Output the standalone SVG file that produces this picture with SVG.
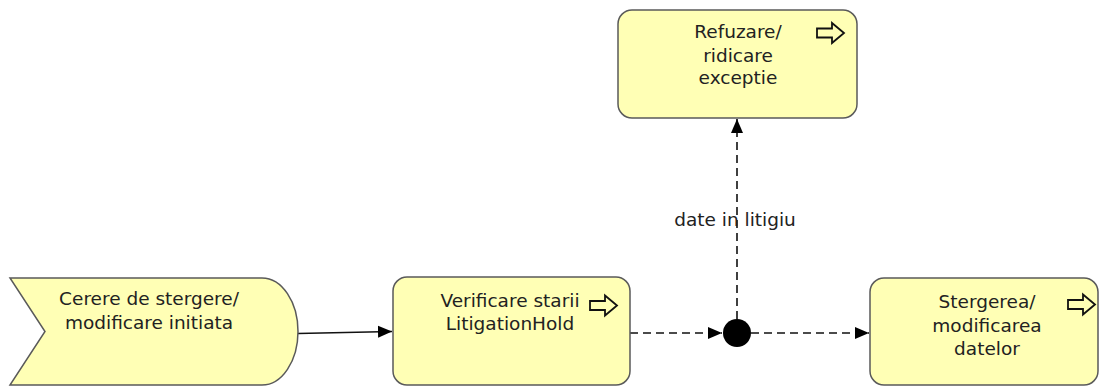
<svg xmlns="http://www.w3.org/2000/svg" width="1099" height="387" viewBox="0 0 1099 387">
  <style>
    .node { fill: #ffffb5; stroke: #5a5a5a; stroke-width: 1.5; }
    .label { font-family: "DejaVu Sans", "Liberation Sans", sans-serif; font-size: 18.5px; fill: #222; text-anchor: middle; }
    .icon { fill: none; stroke: #111; stroke-width: 1.8; stroke-linejoin: miter; }
    .flow { fill: none; stroke: #111; stroke-width: 1.6; }
    .dashed { stroke-dasharray: 8 5; }
  </style>
  <defs>
    <marker id="arrow" markerUnits="userSpaceOnUse" markerWidth="15" markerHeight="13" refX="14" refY="6.5" orient="auto">
      <path d="M0,0.5 L14,6.5 L0,12.5 z" fill="#000"/>
    </marker>
    <!-- business process glyph: outlined right arrow -->
    <polygon id="procIcon" class="icon" points="0,-4.5 15,-4.5 15,-10 27,0 15,10 15,4.5 0,4.5"/>
  </defs>

  <rect width="1099" height="387" fill="#fff"/>

  <!-- connectors -->
  <g id="connectors">
    <path class="flow" d="M298,333.5 L392,331.5" marker-end="url(#arrow)"/>
    <path class="flow dashed" d="M630,333 L722,333" marker-end="url(#arrow)"/>
    <path class="flow dashed" d="M751,333 L869,333" marker-end="url(#arrow)"/>
    <path class="flow dashed" d="M737,319 L737,119" marker-end="url(#arrow)"/>
    <text class="label" x="735" y="226">date in litigiu</text>
  </g>

  <!-- business event -->
  <g id="event-cerere">
    <path class="node" d="M10,278 L262,278 A36,53.5 0 0 1 262,385 L10,385 L45,331.5 Z"/>
    <text class="label" x="149" y="305">Cerere de stergere/</text>
    <text class="label" x="149" y="329">modificare initiata</text>
  </g>

  <!-- business process: status check -->
  <g id="proc-verificare">
    <rect class="node" x="393" y="277" width="237" height="108" rx="14" ry="14"/>
    <text class="label" x="510" y="307">Verificare starii</text>
    <text class="label" x="510" y="330">LitigationHold</text>
    <use href="#procIcon" x="590" y="305.5"/>
  </g>

  <!-- business process: refusal -->
  <g id="proc-refuzare">
    <rect class="node" x="618" y="10" width="239" height="108" rx="14" ry="14"/>
    <text class="label" x="738" y="38">Refuzare/</text>
    <text class="label" x="738" y="61.5">ridicare</text>
    <text class="label" x="738" y="84">exceptie</text>
    <use href="#procIcon" x="817" y="33"/>
  </g>

  <!-- business process: delete / modify -->
  <g id="proc-stergerea">
    <rect class="node" x="870" y="278" width="228" height="107" rx="14" ry="14"/>
    <text class="label" x="987" y="308">Stergerea/</text>
    <text class="label" x="987" y="331.5">modificarea</text>
    <text class="label" x="987" y="355">datelor</text>
    <use href="#procIcon" x="1068" y="304.5"/>
  </g>

  <!-- junction -->
  <g id="junction">
    <circle cx="737" cy="333" r="14" fill="#000"/>
  </g>
</svg>
